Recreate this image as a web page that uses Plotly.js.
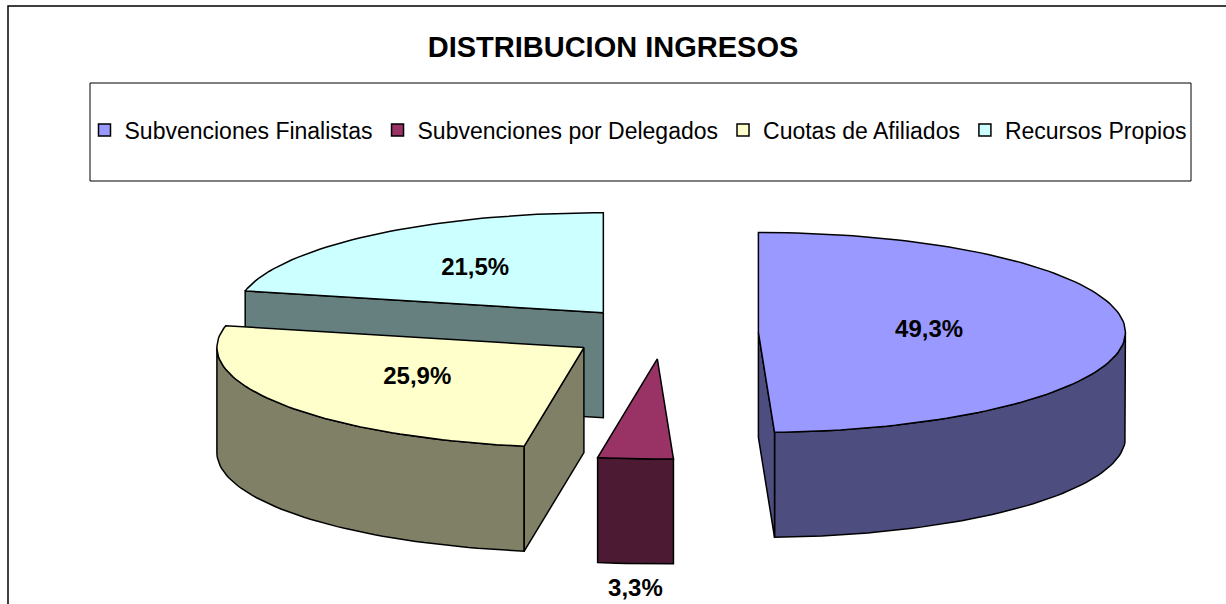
<!DOCTYPE html>
<html>
<head>
<meta charset="utf-8">
<script src="https://cdn.plot.ly/plotly-3.0.1.min.js"></script>
<style>html,body{margin:0;padding:0;background:#fff;}#chart{width:1226px;height:604px;}</style>
</head>
<body>
<div id="chart"></div>
<script>
// ---- data ----
const categories = ['Subvenciones Finalistas', 'Subvenciones por Delegados', 'Cuotas de Afiliados', 'Recursos Propios'];
const values = [49.3, 3.3, 25.9, 21.5];
const chartTitle = 'DISTRIBUCION INGRESOS';

// ---- style ----
const topColors = ['#9999FF', '#993366', '#FFFFCC', '#CCFFFF'];
const sideColors = ['#4D4D80', '#4D1A33', '#808066', '#668080'];
const FONT = 'Liberation Sans, Arial, sans-serif';
// geometry of the 3D pie (in plot units = pixels)
const G = {cx: 663, cy: 333, a: 367, b: 100, h: 105, explode: 0.26, start: 90};

const total = values.reduce((s, v) => s + v, 0);
const rad = d => d * Math.PI / 180;
function rimPt(c, ang, r, dy) {
  return [c[0] + r * G.a * Math.cos(rad(ang)), c[1] - r * G.b * Math.sin(rad(ang)) + (dy || 0)];
}
function arcPts(c, a1, a2, dy) {
  const n = Math.max(2, Math.ceil(Math.abs(a2 - a1) / 1.5));
  const out = [];
  for (let i = 0; i <= n; i++) out.push(rimPt(c, a1 + (a2 - a1) * i / n, 1, dy));
  return out;
}
function poly(points, fill) {
  const pts = points.concat([points[0]]);
  return {
    type: 'scatter', mode: 'lines', fill: 'toself', fillcolor: fill,
    x: pts.map(p => p[0]), y: pts.map(p => p[1]),
    line: {color: '#000', width: 1.5}, hoverinfo: 'skip', showlegend: false
  };
}
const fmt = v => v.toFixed(1).replace('.', ',') + '%';

// build slices
let cum = 0;
const slices = values.map((v, i) => {
  const t1 = G.start - cum / total * 360;
  const t2 = t1 - v / total * 360;
  cum += v;
  const mid = (t1 + t2) / 2;
  const c = [G.cx + G.explode * G.a * Math.cos(rad(mid)), G.cy - G.explode * G.b * Math.sin(rad(mid))];
  return {i, v, t1, t2, mid, c};
});

const traces = [];
const labX = [], labY = [], labT = [];
slices.slice().sort((p, q) => p.c[1] - q.c[1]).forEach(s => {
  const c = s.c, H = G.h;
  // outer wall (visible part, facing viewer)
  const brk = [s.t2];
  for (let k = Math.ceil(s.t2 / 180); k * 180 < s.t1; k++) if (k * 180 > s.t2) brk.push(k * 180);
  brk.push(s.t1);
  for (let j = 0; j < brk.length - 1; j++) {
    const p = brk[j], q = brk[j + 1], m = (p + q) / 2;
    if (Math.sin(rad(m)) < 0 && q - p > 1e-6) {
      traces.push(poly(arcPts(c, p, q, 0).concat(arcPts(c, q, p, H)), sideColors[s.i]));
    }
  }
  // radial faces
  [[s.t1, Math.cos(rad(s.t1)) < -1e-3], [s.t2, Math.cos(rad(s.t2)) > 1e-3]].forEach(([ang, vis]) => {
    if (!vis) return;
    const r = rimPt(c, ang, 1, 0);
    traces.push(poly([c, r, [r[0], r[1] + H], [c[0], c[1] + H]], sideColors[s.i]));
  });
  // top face
  traces.push(poly([c].concat(arcPts(c, s.t2, s.t1, 0)), topColors[s.i]));
  // label
  const frac = s.v / total;
  if (frac >= 0.05) {
    const half = rad((s.t1 - s.t2) / 2);
    const centroid = (2 / 3) * Math.sin(half) / half;
    const p = rimPt(c, s.mid, 0.25 + 0.5 * centroid, 0);
    labX.push(p[0]); labY.push(p[1]);
  } else {
    const p = rimPt(c, s.mid, 1, H + 26);
    labX.push(p[0]); labY.push(p[1]);
  }
  labT.push(fmt(s.v));
});

traces.push({
  type: 'scatter', mode: 'text', x: labX, y: labY, text: labT,
  textfont: {family: FONT, size: 24, color: '#000', weight: 'bold'},
  textposition: 'middle center', hoverinfo: 'skip', showlegend: false
});

// legend entries
categories.forEach((name, i) => {
  traces.push({
    type: 'scatter', mode: 'markers', x: [null], y: [null], name: name,
    marker: {symbol: 'square', size: 12, color: topColors[i], line: {color: '#000', width: 1.5}},
    showlegend: true, hoverinfo: 'skip'
  });
});

const W = 1226, Hh = 604;
const layout = {
  width: W, height: Hh,
  margin: {l: 0, r: 0, t: 0, b: 0},
  paper_bgcolor: '#fff', plot_bgcolor: 'rgba(0,0,0,0)',
  title: {text: '<b>' + chartTitle + '</b>', x: 0.5, xanchor: 'center', y: 1 - 47 / Hh, yanchor: 'middle',
          font: {family: FONT, size: 29, color: '#000'}},
  xaxis: {range: [0, W], visible: false, fixedrange: true},
  yaxis: {range: [Hh, 0], visible: false, fixedrange: true},
  showlegend: true,
  legend: {orientation: 'h', x: 638 / W, xanchor: 'center', y: 1 - 130 / Hh, yanchor: 'middle',
           font: {family: FONT, size: 23, color: '#000'}, bgcolor: 'rgba(0,0,0,0)', traceorder: 'normal',
           itemclick: false, itemdoubleclick: false},
  shapes: [
    {type: 'rect', xref: 'paper', yref: 'paper', x0: 90 / W, x1: 1191 / W, y0: 1 - 181 / Hh, y1: 1 - 83 / Hh,
     line: {color: '#000', width: 1}, fillcolor: 'rgba(0,0,0,0)', layer: 'below'},
    {type: 'rect', xref: 'paper', yref: 'paper', x0: 8 / W, x1: 1.2, y0: -0.2, y1: 1 - 6 / Hh,
     line: {color: '#000', width: 1.5}, fillcolor: 'rgba(0,0,0,0)', layer: 'below'}
  ]
};
Plotly.newPlot('chart', traces, layout, {displayModeBar: false, staticPlot: true});
</script>
</body>
</html>
